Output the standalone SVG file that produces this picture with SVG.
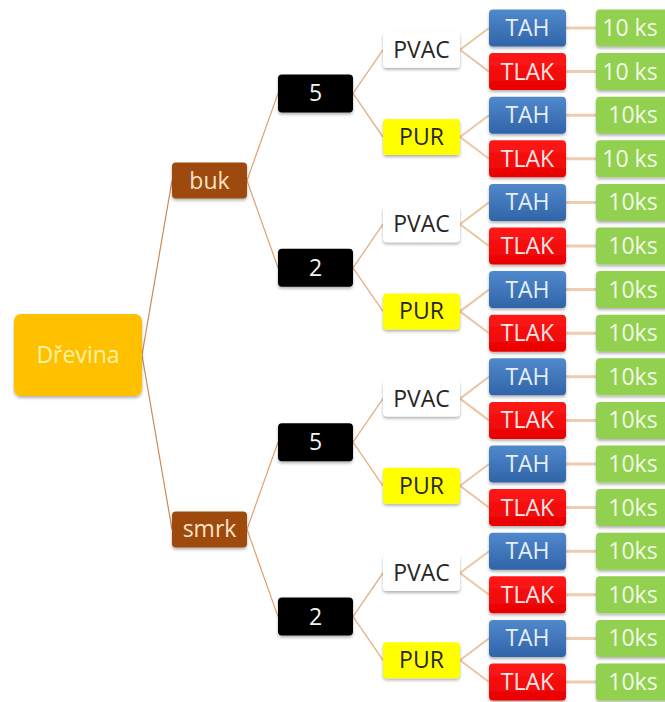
<svg xmlns="http://www.w3.org/2000/svg" width="665" height="702" viewBox="0 0 665 702">
  <defs>
    <filter id="shadow" x="-20%" y="-20%" width="140%" height="160%">
      <feDropShadow dx="0" dy="2" stdDeviation="1.5" flood-color="#000" flood-opacity="0.3"/>
    </filter>
    <linearGradient id="blueFill" x1="0" y1="0" x2="0" y2="1">
      <stop offset="0" stop-color="#5089CC"/>
      <stop offset="1" stop-color="#3064A8"/>
    </linearGradient>
    <linearGradient id="redFill" x1="0" y1="0" x2="0" y2="1">
      <stop offset="0" stop-color="#FF1A1A"/>
      <stop offset="1" stop-color="#E80000"/>
    </linearGradient>
  </defs>
  <style>
    text { font-family: "Open Sans", "Noto Sans", "Liberation Sans", sans-serif; font-size: 23px; text-anchor: middle; }
    rect { filter: url(#shadow); }
    .root rect { fill: #FFC000; }
    .root text { fill: #FFF3A6; }
    .wood rect { fill: #9E4A0A; }
    .wood text { fill: #FBE3C6; }
    .num rect { fill: #000; }
    .num text { fill: #F4F4F4; }
    .pvac rect { fill: #FFFFFF; }
    .pvac text { fill: #262626; }
    .pur rect { fill: #FFFF00; }
    .pur text { fill: #262626; }
    .tah rect { fill: url(#blueFill); }
    .tah text { fill: #E6EEFA; }
    .tlak rect { fill: url(#redFill); }
    .tlak text { fill: #FFE6E6; }
    .qty rect { fill: #92D050; }
    .qty text { fill: #F2FBE6; }
    .c1 { stroke: #CC8A55; stroke-width: 1.2; fill: none; }
    .c2 { stroke: #DFA070; stroke-width: 1.2; fill: none; }
    .c3 { stroke: #E6B388; stroke-width: 1.4; fill: none; }
    .c4 { stroke: #EBC6A4; stroke-width: 2; fill: none; }
    .c5 { stroke: #EECDB0; stroke-width: 3; fill: none; }
  </style>

  <rect width="665" height="702" fill="#FFFFFF" style="filter:none"/>

  <!-- connectors -->
  <g id="connectors">
    <!-- root to wood species -->
    <path class="c1" d="M142 355 L172 180.6 M142 355 L172 529.4"/>
    <!-- species to thickness -->
    <path class="c2" d="M247 180.6 L278 93.4 M247 180.6 L278 267.8 M247 529.4 L278 442.2 M247 529.4 L278 616.6"/>
    <!-- thickness to glue -->
    <path class="c3" d="M353 93.4 L383 49.8 M353 93.4 L383 137 M353 267.8 L383 224.2 M353 267.8 L383 311.4 M353 442.2 L383 398.6 M353 442.2 L383 485.8 M353 616.6 L383 573 M353 616.6 L383 660.2"/>
    <!-- glue to load type -->
    <path class="c4" d="M460 49.8 L489 28 M460 49.8 L489 71.6 M460 137 L489 115.2 M460 137 L489 158.8 M460 224.2 L489 202.4 M460 224.2 L489 246 M460 311.4 L489 289.6 M460 311.4 L489 333.2 M460 398.6 L489 376.8 M460 398.6 L489 420.4 M460 485.8 L489 464 M460 485.8 L489 507.6 M460 573 L489 551.2 M460 573 L489 594.8 M460 660.2 L489 638.4 M460 660.2 L489 682"/>
    <!-- load type to count -->
    <path class="c5" d="M566 28 H596 M566 71.6 H596 M566 115.2 H596 M566 158.8 H596 M566 202.4 H596 M566 246 H596 M566 289.6 H596 M566 333.2 H596 M566 376.8 H596 M566 420.4 H596 M566 464 H596 M566 507.6 H596 M566 551.2 H596 M566 594.8 H596 M566 638.4 H596 M566 682 H596"/>
  </g>

  <!-- root -->
  <g id="drevina" class="root"><rect x="14" y="314" width="128" height="82" rx="7"/><text x="78" y="363">Dřevina</text></g>

  <!-- species -->
  <g id="buk" class="wood"><rect x="172" y="162.6" width="75" height="36" rx="4"/><text x="209.5" y="188.6">buk</text></g>
  <g id="smrk" class="wood"><rect x="172" y="511.4" width="75" height="36" rx="4"/><text x="209.5" y="537.4">smrk</text></g>

  <!-- thickness -->
  <g id="buk-5" class="num"><rect x="278" y="74.4" width="75" height="38" rx="4"/><text x="315.5" y="101.4">5</text></g>
  <g id="buk-2" class="num"><rect x="278" y="248.8" width="75" height="38" rx="4"/><text x="315.5" y="275.8">2</text></g>
  <g id="smrk-5" class="num"><rect x="278" y="423.2" width="75" height="38" rx="4"/><text x="315.5" y="450.2">5</text></g>
  <g id="smrk-2" class="num"><rect x="278" y="597.6" width="75" height="38" rx="4"/><text x="315.5" y="624.6">2</text></g>

  <!-- glue -->
  <g id="buk-5-pvac" class="pvac"><rect x="383" y="31.8" width="77" height="36" rx="4"/><text x="421.5" y="57.8">PVAC</text></g>
  <g id="buk-5-pur" class="pur"><rect x="383" y="119" width="77" height="36" rx="4"/><text x="421.5" y="145">PUR</text></g>
  <g id="buk-2-pvac" class="pvac"><rect x="383" y="206.2" width="77" height="36" rx="4"/><text x="421.5" y="232.2">PVAC</text></g>
  <g id="buk-2-pur" class="pur"><rect x="383" y="293.4" width="77" height="36" rx="4"/><text x="421.5" y="319.4">PUR</text></g>
  <g id="smrk-5-pvac" class="pvac"><rect x="383" y="380.6" width="77" height="36" rx="4"/><text x="421.5" y="406.6">PVAC</text></g>
  <g id="smrk-5-pur" class="pur"><rect x="383" y="467.8" width="77" height="36" rx="4"/><text x="421.5" y="493.8">PUR</text></g>
  <g id="smrk-2-pvac" class="pvac"><rect x="383" y="555" width="77" height="36" rx="4"/><text x="421.5" y="581">PVAC</text></g>
  <g id="smrk-2-pur" class="pur"><rect x="383" y="642.2" width="77" height="36" rx="4"/><text x="421.5" y="668.2">PUR</text></g>

  <!-- load type -->
  <g id="load-1" class="tah"><rect x="489" y="9.5" width="77" height="37" rx="4"/><text x="527.5" y="36">TAH</text></g>
  <g id="load-2" class="tlak"><rect x="489" y="53.1" width="77" height="37" rx="4"/><text x="527.5" y="79.6">TLAK</text></g>
  <g id="load-3" class="tah"><rect x="489" y="96.7" width="77" height="37" rx="4"/><text x="527.5" y="123.2">TAH</text></g>
  <g id="load-4" class="tlak"><rect x="489" y="140.3" width="77" height="37" rx="4"/><text x="527.5" y="166.8">TLAK</text></g>
  <g id="load-5" class="tah"><rect x="489" y="183.9" width="77" height="37" rx="4"/><text x="527.5" y="210.4">TAH</text></g>
  <g id="load-6" class="tlak"><rect x="489" y="227.5" width="77" height="37" rx="4"/><text x="527.5" y="254">TLAK</text></g>
  <g id="load-7" class="tah"><rect x="489" y="271.1" width="77" height="37" rx="4"/><text x="527.5" y="297.6">TAH</text></g>
  <g id="load-8" class="tlak"><rect x="489" y="314.7" width="77" height="37" rx="4"/><text x="527.5" y="341.2">TLAK</text></g>
  <g id="load-9" class="tah"><rect x="489" y="358.3" width="77" height="37" rx="4"/><text x="527.5" y="384.8">TAH</text></g>
  <g id="load-10" class="tlak"><rect x="489" y="401.9" width="77" height="37" rx="4"/><text x="527.5" y="428.4">TLAK</text></g>
  <g id="load-11" class="tah"><rect x="489" y="445.5" width="77" height="37" rx="4"/><text x="527.5" y="472">TAH</text></g>
  <g id="load-12" class="tlak"><rect x="489" y="489.1" width="77" height="37" rx="4"/><text x="527.5" y="515.6">TLAK</text></g>
  <g id="load-13" class="tah"><rect x="489" y="532.7" width="77" height="37" rx="4"/><text x="527.5" y="559.2">TAH</text></g>
  <g id="load-14" class="tlak"><rect x="489" y="576.3" width="77" height="37" rx="4"/><text x="527.5" y="602.8">TLAK</text></g>
  <g id="load-15" class="tah"><rect x="489" y="619.9" width="77" height="37" rx="4"/><text x="527.5" y="646.4">TAH</text></g>
  <g id="load-16" class="tlak"><rect x="489" y="663.5" width="77" height="37" rx="4"/><text x="527.5" y="690">TLAK</text></g>

  <!-- specimen counts -->
  <g id="qty-1" class="qty"><rect x="596" y="9.5" width="80" height="37" rx="4"/><text x="630" y="36">10 ks</text></g>
  <g id="qty-2" class="qty"><rect x="596" y="53.1" width="80" height="37" rx="4"/><text x="630" y="79.6">10 ks</text></g>
  <g id="qty-3" class="qty"><rect x="596" y="96.7" width="80" height="37" rx="4"/><text x="633" y="123.2">10ks</text></g>
  <g id="qty-4" class="qty"><rect x="596" y="140.3" width="80" height="37" rx="4"/><text x="630" y="166.8">10 ks</text></g>
  <g id="qty-5" class="qty"><rect x="596" y="183.9" width="80" height="37" rx="4"/><text x="633" y="210.4">10ks</text></g>
  <g id="qty-6" class="qty"><rect x="596" y="227.5" width="80" height="37" rx="4"/><text x="633" y="254">10ks</text></g>
  <g id="qty-7" class="qty"><rect x="596" y="271.1" width="80" height="37" rx="4"/><text x="633" y="297.6">10ks</text></g>
  <g id="qty-8" class="qty"><rect x="596" y="314.7" width="80" height="37" rx="4"/><text x="633" y="341.2">10ks</text></g>
  <g id="qty-9" class="qty"><rect x="596" y="358.3" width="80" height="37" rx="4"/><text x="633" y="384.8">10ks</text></g>
  <g id="qty-10" class="qty"><rect x="596" y="401.9" width="80" height="37" rx="4"/><text x="633" y="428.4">10ks</text></g>
  <g id="qty-11" class="qty"><rect x="596" y="445.5" width="80" height="37" rx="4"/><text x="633" y="472">10ks</text></g>
  <g id="qty-12" class="qty"><rect x="596" y="489.1" width="80" height="37" rx="4"/><text x="633" y="515.6">10ks</text></g>
  <g id="qty-13" class="qty"><rect x="596" y="532.7" width="80" height="37" rx="4"/><text x="633" y="559.2">10ks</text></g>
  <g id="qty-14" class="qty"><rect x="596" y="576.3" width="80" height="37" rx="4"/><text x="633" y="602.8">10ks</text></g>
  <g id="qty-15" class="qty"><rect x="596" y="619.9" width="80" height="37" rx="4"/><text x="633" y="646.4">10ks</text></g>
  <g id="qty-16" class="qty"><rect x="596" y="663.5" width="80" height="37" rx="4"/><text x="633" y="690">10ks</text></g>
</svg>
